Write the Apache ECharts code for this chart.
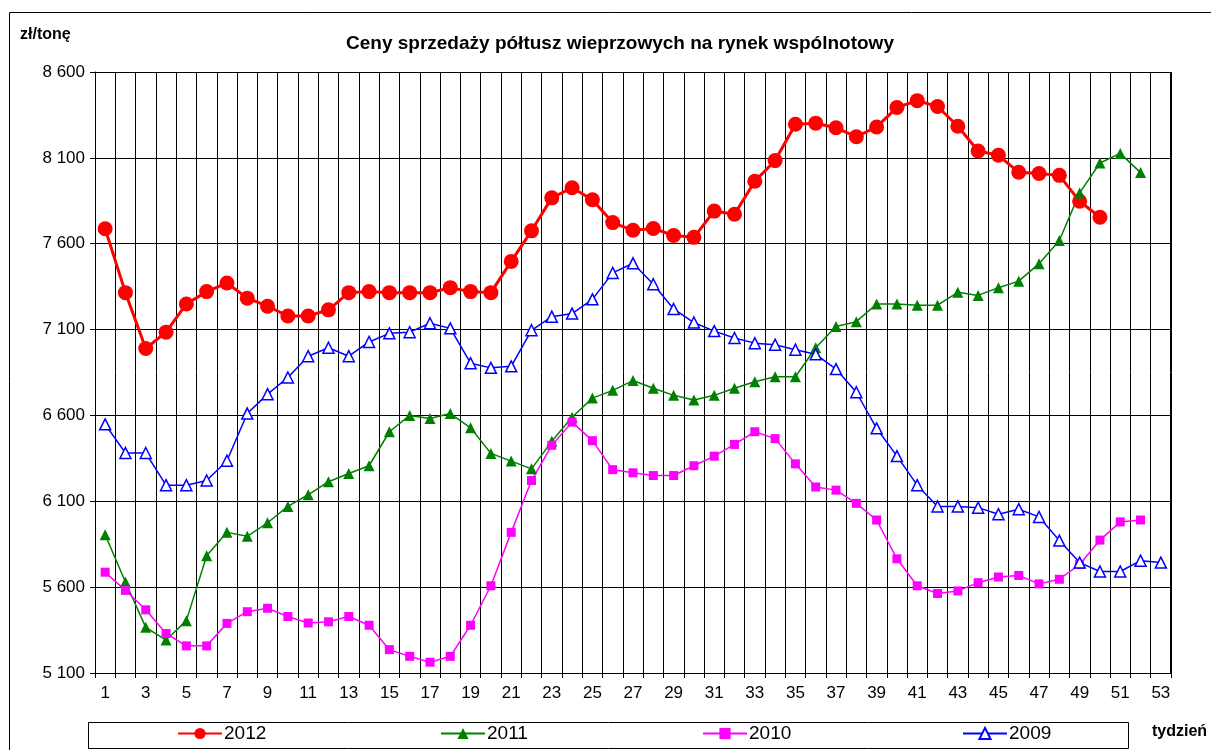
<!DOCTYPE html>
<html><head><meta charset="utf-8">
<script src="https://cdn.jsdelivr.net/npm/echarts@6/dist/echarts.min.js"></script>
<style>html,body{margin:0;padding:0;background:#fff}#c{width:1211px;height:750px}</style>
</head><body><div id="c"></div>
<script>
const weeks = Array.from({length:53},(_,i)=>String(i+1));
const s2012 = [7687,7315,6990,7085,7249,7321,7371,7283,7236,7179,7179,7215,7315,7321,7315,7315,7315,7344,7321,7315,7497,7675,7867,7926,7856,7723,7678,7689,7648,7637,7790,7772,7964,8084,8296,8302,8275,8223,8280,8393,8433,8399,8284,8140,8115,8016,8009,7998,7847,7754];
const s2011 = [5905,5630,5366,5292,5405,5783,5919,5896,5975,6070,6138,6214,6262,6307,6505,6600,6582,6611,6528,6379,6334,6289,6449,6589,6701,6746,6803,6758,6717,6690,6717,6758,6796,6825,6825,6994,7118,7146,7249,7249,7242,7242,7317,7299,7344,7382,7484,7619,7896,8070,8126,8014];
const s2010 = [5687,5581,5468,5330,5258,5258,5389,5457,5477,5429,5391,5398,5429,5378,5236,5197,5163,5197,5378,5608,5919,6221,6426,6561,6453,6284,6266,6250,6250,6307,6363,6431,6505,6465,6318,6183,6165,6088,5991,5765,5608,5563,5578,5626,5659,5668,5619,5646,5732,5874,5980,5991];
const s2009 = [6548,6381,6381,6194,6194,6221,6336,6611,6724,6821,6945,6994,6945,7028,7078,7085,7137,7107,6904,6877,6886,7096,7175,7193,7276,7430,7486,7364,7220,7141,7091,7051,7021,7012,6983,6956,6870,6735,6525,6363,6194,6070,6070,6063,6025,6054,6009,5871,5743,5691,5691,5754,5743];
const names = ['2012','2011','2010','2009'];
const yMin = 5100, yMax = 8600, yStep = 500;

const font = 'Liberation Sans, Arial, sans-serif';
const chart = echarts.init(document.getElementById('c'));
function leg(name, left){
  return {data:[name], left:left, top:724, itemWidth:44, itemHeight:14, itemGap:0,
    textStyle:{fontFamily:font, fontSize:19, color:'#000', padding:[0,0,0,-3]}, padding:0, selectedMode:false};
}
chart.setOption({
  animation:false,
  backgroundColor:'#fff',
  title:{text:'Ceny sprzedaży półtusz wieprzowych na rynek wspólnotowy', left:341, top:29,
    textStyle:{fontFamily:font, fontSize:19, fontWeight:'bold', color:'#000'}},
  graphic:[
    {type:'rect', shape:{x:9.5,y:12.5,width:1230,height:760}, style:{fill:'none',stroke:'#000',lineWidth:1}, silent:true},
    {type:'rect', shape:{x:88.5,y:722.5,width:1040,height:26}, style:{fill:'none',stroke:'#000',lineWidth:1}, silent:true},
    {type:'text', left:20, top:27, style:{text:'zł/tonę', font:'bold 16px '+font, fill:'#000'}},
    {type:'text', left:1152, top:724, style:{text:'tydzień', font:'bold 16px '+font, fill:'#000'}},
    {type:'line', shape:{x1:1170.5,y1:72,x2:1170.5,y2:673}, style:{stroke:'#000',lineWidth:1}, silent:true}
  ],
  legend:[leg('2012',177), leg('2011',440), leg('2010',702), leg('2009',962)],
  grid:{left:95, right:40, top:72, bottom:77},
  xAxis:{type:'category', data:weeks, boundaryGap:true,
    axisLine:{lineStyle:{color:'#000',width:1}},
    axisTick:{show:true, interval:0, length:5, lineStyle:{color:'#000'}},
    axisLabel:{interval:1, margin:12, fontFamily:font, fontSize:17, color:'#000'},
    splitLine:{show:true, interval:0, lineStyle:{color:'#000',width:1}}},
  yAxis:{type:'value', min:yMin, max:yMax, interval:yStep,
    axisLine:{show:true, lineStyle:{color:'#000',width:1}},
    axisTick:{show:true, length:5, lineStyle:{color:'#000'}},
    axisLabel:{margin:10, fontFamily:font, fontSize:17, color:'#000',
      formatter:v=>String(v).replace(/\B(?=(\d{3})+(?!\d))/g,' ')},
    splitLine:{show:true, lineStyle:{color:'#000',width:1}}},
  series:[
    {name:'2012', type:'line', data:s2012, symbol:'circle', symbolSize:15, showAllSymbol:true,
      lineStyle:{color:'#ff0000',width:3}, itemStyle:{color:'#ff0000'}},
    {name:'2011', type:'line', data:s2011, symbol:'triangle', symbolSize:11, showAllSymbol:true,
      lineStyle:{color:'#008000',width:1.5}, itemStyle:{color:'#008000'}},
    {name:'2010', type:'line', data:s2010, symbol:'rect', symbolSize:9, showAllSymbol:true,
      lineStyle:{color:'#ff00ff',width:1.5}, itemStyle:{color:'#ff00ff'}},
    {name:'2009', type:'line', data:s2009, symbol:'triangle', symbolSize:11, showAllSymbol:true,
      lineStyle:{color:'#0000ff',width:1.5}, itemStyle:{color:'#fff',borderColor:'#0000ff',borderWidth:1.5}}
  ]
});
</script></body></html>
